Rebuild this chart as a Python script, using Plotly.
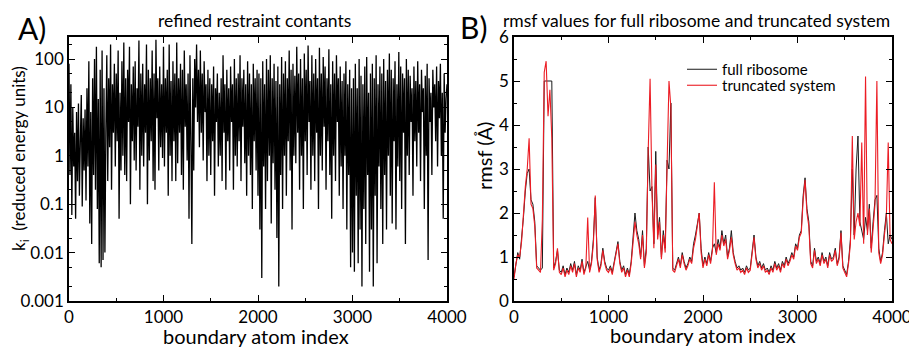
import plotly.graph_objects as go

# ---------------- data ----------------
k_index = list(range(0, 4001, 10))
k_values = [
    80, 0.4, 30, 0.06, 10, 0.6, 3, 0.05, 8, 0.3,
    12, 0.15, 2, 18, 0.09, 6, 0.5, 9, 0.12, 25,
    0.6, 90, 0.04, 8, 0.015, 40, 0.4, 100, 0.2, 180,
    0.08, 15, 0.006, 60, 0.005, 150, 0.007, 25, 0.01, 3,
    120, 0.3, 40, 1.5, 200, 0.2, 30, 3, 80, 0.6,
    50, 2, 150, 0.05, 20, 0.5, 90, 1, 220, 0.4,
    40, 0.3, 60, 5, 180, 0.1, 30, 2, 70, 0.8,
    90, 0.5, 25, 4, 240, 0.2, 50, 1, 80, 0.6,
    30, 3, 200, 0.1, 60, 0.8, 40, 2, 150, 0.3,
    50, 0.2, 250, 6, 40, 0.5, 70, 1.5, 30, 0.9,
    180, 0.6, 40, 3, 60, 0.15, 200, 1, 35, 0.3,
    90, 2, 50, 0.3, 220, 0.7, 40, 3, 80, 0.4,
    60, 0.2, 150, 4, 30, 0.8, 50, 0.05, 120, 2,
    0.015, 40, 0.5, 100, 10, 200, 5, 60, 1.5, 150,
    3, 50, 0.8, 90, 8, 30, 0.3, 60, 1, 40,
    0.4, 30, 2, 70, 0.15, 25, 5, 50, 0.6, 20,
    1, 40, 0.3, 120, 3, 30, 0.2, 60, 2, 25,
    0.5, 70, 5, 30, 0.2, 100, 1, 40, 0.6, 50,
    2, 120, 0.3, 40, 4, 60, 0.7, 30, 0.15, 90,
    1, 50, 0.4, 30, 0.08, 80, 2, 40, 0.5, 60,
    0.15, 50, 0.03, 40, 0.003, 90, 0.6, 30, 0.08, 100,
    0.3, 60, 1, 120, 0.04, 40, 0.7, 80, 0.2, 35,
    0.02, 70, 0.002, 30, 0.4, 110, 0.08, 50, 1, 90,
    0.15, 40, 2, 150, 0.5, 60, 0.03, 80, 1, 45,
    0.7, 180, 3, 50, 0.2, 100, 1, 40, 0.08, 130,
    2, 60, 0.4, 190, 5, 35, 0.2, 120, 1, 50,
    0.3, 100, 3, 40, 0.08, 170, 1, 50, 0.5, 110,
    4, 70, 0.2, 40, 2, 160, 0.4, 30, 0.05, 90,
    1, 50, 0.3, 120, 5, 40, 0.15, 70, 0.6, 35,
    0.08, 50, 1, 90, 0.03, 30, 0.4, 60, 0.005, 25,
    0.01, 40, 0.004, 80, 0.15, 25, 0.006, 100, 0.03, 45,
    0.002, 30, 0.08, 70, 0.015, 110, 0.4, 20, 0.004, 50,
    0.03, 80, 0.002, 40, 0.15, 120, 0.006, 30, 0.6, 70,
    0.08, 50, 0.015, 100, 0.4, 35, 0.03, 60, 1, 130,
    0.15, 60, 0.04, 40, 2, 90, 0.03, 30, 0.6, 140,
    0.3, 70, 0.08, 50, 3, 40, 0.015, 100, 1, 60,
    0.4, 45, 5, 25, 0.15, 70, 2, 35, 0.6, 90,
    3, 30, 0.3, 60, 8, 25, 0.08, 45, 1, 80,
    0.007, 40, 5, 20, 0.4, 60, 10, 30, 2, 70,
    0.6, 35, 6, 80, 1, 20, 0.05, 50, 3, 15,
    30,
]

rmsf_index = list(range(0, 4001, 20))
rmsf_full = [
    0.55, 0.8, 1.1, 0.95, 1.4, 1.9, 2.5, 2.9, 3.0, 2.3,
    2.2, 1.8, 0.8, 0.75, 0.7, 0.75, 5.0, 5.0, 5.0, 5.0,
    5.0, 0.75, 0.9, 1.15, 0.7, 0.65, 0.8, 0.6, 0.75, 0.65,
    0.85, 0.7, 0.9, 0.6, 0.8, 0.7, 0.95, 0.65, 0.8, 0.9,
    0.7, 0.9, 1.4, 2.35, 1.0, 0.7, 0.85, 1.2, 0.9, 0.75,
    0.7, 0.8, 0.65, 0.9, 1.1, 1.35, 0.9, 0.7, 0.8, 0.6,
    0.75, 0.6, 0.9, 1.5, 2.0, 1.6, 1.4, 1.0, 1.6, 0.8,
    1.2, 3.5, 2.5, 2.6, 1.3, 3.4, 1.5, 1.9, 1.0, 1.6,
    1.2, 3.2, 3.0, 4.5, 0.75, 0.7, 0.85, 1.0, 0.8, 1.1,
    0.9, 0.75, 0.85, 1.0, 0.9, 1.3, 1.5, 1.8, 2.0, 1.2,
    0.8, 1.0, 0.85, 1.1, 0.9, 1.2, 1.3, 1.1, 1.4, 1.2,
    1.6, 1.3, 1.5, 1.0, 1.2, 1.6, 1.1, 0.9, 0.75, 0.8,
    0.7, 0.75, 0.65, 0.8, 0.7, 0.75, 1.1, 1.5, 1.0, 0.8,
    0.9, 0.75, 0.85, 0.7, 0.75, 0.65, 0.8, 0.7, 0.9, 0.75,
    0.85, 0.7, 0.9, 0.8, 1.0, 0.85, 0.95, 1.1, 1.0, 1.3,
    1.2, 1.5, 1.6, 2.4, 2.8, 2.1, 1.8, 0.9, 0.8, 1.2,
    0.9, 1.0, 0.85, 1.1, 0.9, 1.0, 0.8, 1.1, 0.95, 1.0,
    1.2, 0.85, 1.0, 1.6, 0.8, 0.7, 0.6, 0.9, 1.4, 3.0,
    1.5, 3.0, 3.75, 1.8, 1.6, 1.4, 1.9, 1.6, 2.2, 1.2,
    1.8, 2.3, 2.4, 1.2, 0.9, 1.1, 1.6, 2.0, 1.3, 1.5,
    1.4,
]
rmsf_trunc = [
    0.5, 0.85, 1.05, 1.0, 1.35, 2.0, 2.6, 3.0, 3.7, 2.2,
    2.1, 1.7, 0.75, 0.7, 0.65, 1.85, 5.2, 5.45, 4.2, 4.8,
    3.7, 0.7, 0.85, 1.2, 0.65, 0.6, 0.75, 0.55, 0.7, 0.6,
    0.8, 0.65, 0.85, 0.55, 0.75, 0.65, 0.9, 0.6, 0.75, 1.9,
    0.65, 0.85, 1.3, 2.4, 0.95, 0.65, 0.8, 1.15, 0.85, 0.7,
    0.65, 0.75, 0.6, 0.85, 1.05, 1.3, 0.85, 0.65, 0.75, 0.55,
    0.7, 0.55, 0.85, 1.4, 1.8, 1.5, 1.3, 0.95, 1.5, 0.75,
    1.1, 3.4, 5.05, 2.5, 1.2, 3.1, 1.4, 1.8, 0.95, 1.5,
    1.1, 3.1, 5.0, 4.4, 0.7, 0.65, 0.8, 0.95, 0.75, 1.05,
    0.85, 0.7, 0.8, 0.95, 0.85, 1.2, 1.4, 1.7, 2.0, 1.1,
    0.75, 0.95, 0.8, 1.05, 0.85, 1.15, 2.7, 1.05, 1.3, 1.15,
    1.5, 1.25, 1.4, 0.95, 1.15, 1.45, 1.05, 0.85, 0.7, 0.75,
    0.65, 0.7, 0.6, 0.75, 0.65, 0.7, 1.05, 1.45, 0.95, 0.75,
    0.85, 0.7, 0.8, 0.65, 0.7, 0.6, 0.75, 0.65, 0.85, 0.7,
    0.8, 0.65, 0.85, 0.75, 0.95, 0.8, 0.9, 1.05, 0.95, 1.25,
    1.15, 1.45, 1.55, 2.3, 2.75, 2.0, 1.7, 0.85, 0.75, 1.15,
    0.85, 0.95, 0.8, 1.05, 0.85, 0.95, 0.75, 1.05, 0.9, 0.95,
    1.15, 0.8, 0.95, 1.55, 0.75, 0.65, 0.55, 0.85, 1.3, 3.75,
    1.4, 1.8, 2.0, 1.7, 3.6, 1.3, 5.1, 1.5, 2.1, 1.1,
    1.7, 2.2, 5.0, 1.1, 0.85, 1.05, 1.5, 1.9, 3.6, 1.4,
    1.3,
]

k_tickvals = [0.001, 0.01, 0.1, 1, 10, 100]
k_ticktext = ["0.001", "0.01", "0.1", "1", "10", "100"]
x_tickvals = [0, 1000, 2000, 3000, 4000]

# ---------------- figure ----------------
FONT = "Lato"
OFF = 8                      # page body margin in the browser
W, H = 917 - OFF, 347 - OFF  # figure size so it fills the window


def px_x(p):
    return (p - OFF) / W


def px_y(p):
    return 1 - (p - OFF) / H


fig = go.Figure()
fig.add_trace(go.Scatter(x=k_index, y=k_values, mode="lines",
                         line=dict(color="black", width=1.3, simplify=False),
                         showlegend=False, xaxis="x", yaxis="y"))
fig.add_trace(go.Scatter(x=rmsf_index, y=rmsf_full, mode="lines",
                         name="full ribosome", legend="legend",
                         line=dict(color="#1a1a1a", width=1),
                         xaxis="x2", yaxis="y2"))
fig.add_trace(go.Scatter(x=rmsf_index, y=rmsf_trunc, mode="lines",
                         name="truncated system", legend="legend2",
                         line=dict(color="#ec1c24", width=1.1),
                         xaxis="x2", yaxis="y2"))

axis_common = dict(showline=True, linecolor="black", linewidth=1.5,
                   mirror="ticks", ticks="inside", tickcolor="black",
                   ticklen=6, tickwidth=1, showgrid=False, zeroline=False,
                   automargin=False,
                   tickfont=dict(family=FONT, size=17, color="black"))


def ann_font(s):
    return dict(family=FONT, size=s, color="black")


legend_common = dict(xanchor="left", yanchor="top", bgcolor="rgba(0,0,0,0)",
                     font=dict(family=FONT, size=15, color="black"),
                     borderwidth=0)

fig.update_layout(
    width=W, height=H,
    margin=dict(l=0, r=0, t=0, b=0),
    plot_bgcolor="white", paper_bgcolor="white",
    font=dict(family=FONT, color="black"),
    xaxis=dict(domain=[px_x(69), px_x(447)], anchor="y", range=[0, 4000],
               tickvals=x_tickvals,
               minor=dict(dtick=500, ticks="inside", ticklen=3, tickcolor="black"),
               **axis_common),
    yaxis=dict(domain=[px_y(301), px_y(37)], anchor="x", type="log",
               range=[-3, 2.455], tickvals=k_tickvals, ticktext=k_ticktext,
               minor=dict(ticks="inside", ticklen=3, tickcolor="black", showgrid=False),
               **axis_common),
    xaxis2=dict(domain=[px_x(514), px_x(892)], anchor="y2", range=[0, 4000],
                tickvals=x_tickvals,
                minor=dict(dtick=500, ticks="inside", ticklen=3, tickcolor="black"),
                **axis_common),
    yaxis2=dict(domain=[px_y(301), px_y(37)], anchor="x2", range=[0, 6],
                dtick=1,
                minor=dict(dtick=0.5, ticks="inside", ticklen=3, tickcolor="black"),
                **axis_common),
    legend=dict(x=px_x(682), y=px_y(53), **legend_common),
    legend2=dict(x=px_x(682), y=px_y(69), **legend_common),
    annotations=[
        dict(text="A)", x=px_x(32), y=px_y(28), xref="paper", yref="paper",
             xanchor="center", yanchor="middle", showarrow=False, font=ann_font(30)),
        dict(text="refined restraint contants", x=px_x(254), y=px_y(20),
             xref="paper", yref="paper", xanchor="center", yanchor="middle",
             showarrow=False, font=ann_font(17.5)),
        dict(text="B)", x=px_x(474), y=px_y(27), xref="paper", yref="paper",
             xanchor="center", yanchor="middle", showarrow=False, font=ann_font(30)),
        dict(text="rmsf values for full ribosome and truncated system", x=px_x(696), y=px_y(20),
             xref="paper", yref="paper", xanchor="center", yanchor="middle",
             showarrow=False, font=ann_font(17.5)),
        dict(text="boundary atom index", x=px_x(256), y=px_y(336),
             xref="paper", yref="paper", xanchor="center", yanchor="middle",
             showarrow=False, font=ann_font(20)),
        dict(text="boundary atom index", x=px_x(703), y=px_y(335),
             xref="paper", yref="paper", xanchor="center", yanchor="middle",
             showarrow=False, font=ann_font(20)),
        dict(text="k<sub>i</sub>  (reduced energy units)", x=px_x(20), y=px_y(159),
             xref="paper", yref="paper", xanchor="center", yanchor="middle",
             textangle=-90, showarrow=False, font=ann_font(17)),
        dict(text="rmsf (Å)", x=px_x(484), y=px_y(156),
             xref="paper", yref="paper", xanchor="center", yanchor="middle",
             textangle=-90, showarrow=False, font=ann_font(20)),
    ],
)

fig.write_html("out.html")
